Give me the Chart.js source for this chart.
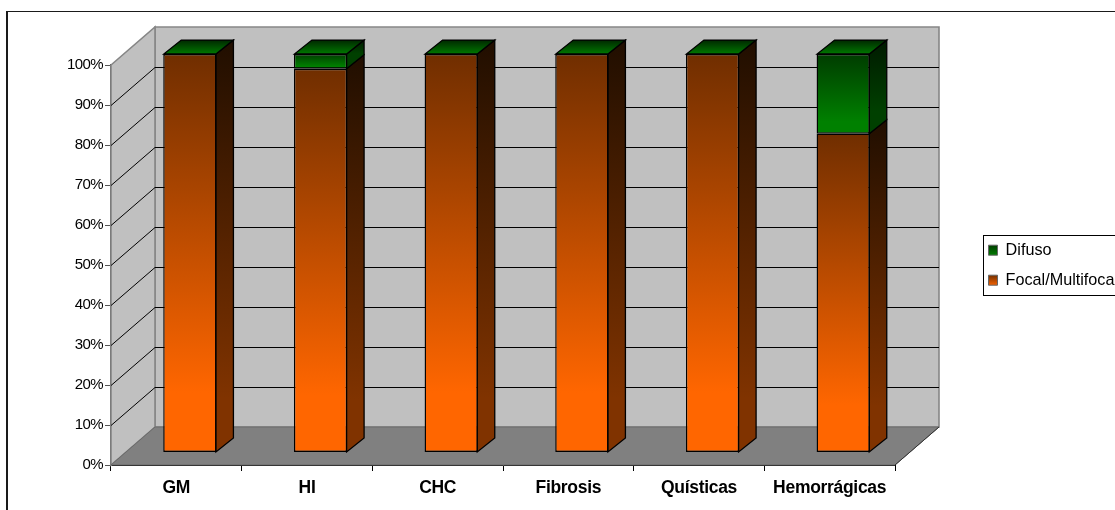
<!DOCTYPE html>
<html><head><meta charset="utf-8">
<style>html,body{margin:0;padding:0;background:#fff;overflow:hidden}canvas{display:block}</style>
<script src="https://cdn.jsdelivr.net/npm/chart.js@4/dist/chart.umd.min.js"></script>
</head><body>
<div style="width:1115px;height:510px"><canvas id="c" width="1115" height="510"></canvas></div>
<script>
const categories = ['GM','HI','CHC','Fibrosis','Quísticas','Hemorrágicas'];
const focal = [100,96.3,100,100,100,80];
const difuso = [0,3.7,0,0,0,20];
const WALL = {dx:44, dy:38};
const BAR = {dx:17.5, dy:14};
const FRONT = {a:0.99625, e:13.5, f:-10.76};
const PAL = {
  focal:{front:['#702e00','#ff6600'], side:['#200e00','#803300']},
  difuso:{front:['#003c00','#008000'], side:['#001a00','#004000']}
};
function grad(ctx,y0,y1,cols,stop){
  const g=ctx.createLinearGradient(0,y0,0,y1);
  g.addColorStop(0,cols[0]); g.addColorStop(stop,cols[1]); g.addColorStop(1,cols[1]);
  return g;
}
function frontFill(pal,lo,hi){
  return c=>{
    if(c.type!=='data'||!c.chart.scales.y) return pal.front[1];
    const i=c.dataIndex,y=c.chart.scales.y;
    return grad(c.chart.ctx,y.getPixelForValue(hi(i)),y.getPixelForValue(lo(i)),pal.front,0.85);
  };
}
function spaced(obj,method,sp){
  const f=obj[method];
  obj[method]=function(...a){const c=this.ctx;c.letterSpacing=sp;f.apply(this,a);c.letterSpacing='0px';};
}
const walls={
  id:'walls',
  afterLayout(chart){
    const l=chart.legend; if(l){l.left=974.7;l.top=228.3;l.right=1300;l.bottom=420;}
    if(!chart.$spaced){chart.$spaced=true;spaced(chart.scales.y,'drawLabels','-0.6px');spaced(chart.scales.x,'drawLabels','-0.3px');}
  },
  beforeDraw(chart){
    const x=chart.ctx,W=chart.width,H=chart.height;
    x.save();x.fillStyle='#fff';x.fillRect(0,0,W,H);
    x.fillStyle='#1a1a1a';x.fillRect(6,11,W-6,1);x.fillRect(6,11,2,H-11);
    x.lineWidth=1;x.strokeStyle='#000';x.strokeRect(983.5,235.5,300,60);
    x.restore();
  },
  beforeDatasetsDraw(chart){
    const x=chart.ctx,a=chart.chartArea,ys=chart.scales.y,t=a.top,b=a.bottom,l=a.left,r=a.right,dx=WALL.dx,dy=WALL.dy;
    const poly=(p,fill,stroke,lw)=>{x.beginPath();p.forEach((q,i)=>i?x.lineTo(q[0],q[1]):x.moveTo(q[0],q[1]));x.closePath();
      if(fill){x.fillStyle=fill;x.fill();} if(stroke){x.strokeStyle=stroke;x.lineWidth=lw||1;x.stroke();}};
    x.save();
    poly([[l+dx,t-dy],[r+dx,t-dy],[r+dx,b-dy],[l+dx,b-dy]],'#c0c0c0','#868686',1.6);
    poly([[l,t],[l+dx,t-dy],[l+dx,b-dy],[l,b]],'#c0c0c0','#868686',1.6);
    poly([[l,b],[l+dx,b-dy],[r+dx,b-dy],[r,b]],'#808080','#6a6a6a',1);
    x.strokeStyle='#000';x.lineWidth=1;
    ys.ticks.forEach(tk=>{
      if(tk.value===0||tk.value===100) return;
      const y=Math.round(ys.getPixelForValue(tk.value))+0.5;
      x.beginPath();x.moveTo(l,y);x.lineTo(l+dx,y-dy);x.lineTo(r+dx,y-dy);x.stroke();
    });
    x.beginPath();x.moveTo(r,b);x.lineTo(r+dx,b-dy);x.strokeStyle='#333';x.stroke();
    // bar sides and caps
    x.transform(1,0,0,FRONT.a,FRONT.e,FRONT.f);
    const m0=chart.getDatasetMeta(0).data,m1=chart.getDatasetMeta(1).data;
    const side=(el,pal)=>{
      const rt=el.x+el.width/2-0.5,top=el.y,base=el.base;
      if(Math.abs(base-top)<1) return;
      poly([[rt,top],[rt+BAR.dx,top-BAR.dy],[rt+BAR.dx,base-BAR.dy],[rt,base]],
        grad(x,top-BAR.dy,base-BAR.dy,pal.side,0.9),'#000',1.3);
    };
    m0.forEach((el,i)=>{
      side(el,PAL.focal); side(m1[i],PAL.difuso);
      const w=el.width,lf=el.x-w/2+0.5,rt=el.x+w/2-0.5,top=Math.min(el.y,m1[i].y);
      const g=x.createLinearGradient(0,top-BAR.dy,0,top);
      g.addColorStop(0,'#002800');g.addColorStop(1,'#007800');
      poly([[lf,top],[rt,top],[rt+BAR.dx,top-BAR.dy],[lf+BAR.dx,top-BAR.dy]],g,'#000',1.3);
    });
    x.restore();
    x.save();
    x.transform(1,0,0,FRONT.a,FRONT.e,FRONT.f);
  },
  afterDatasetsDraw(chart){chart.ctx.restore();}
};
const chart=new Chart(document.getElementById('c'),{
  type:'bar',
  plugins:[walls],
  data:{labels:categories,datasets:[
    {label:'Focal/Multifocal',data:focal,clip:false,borderColor:'#000',borderWidth:1.4,borderSkipped:false,
     backgroundColor:frontFill(PAL.focal,()=>0,i=>focal[i])},
    {label:'Difuso',data:difuso,clip:false,borderColor:'#000',borderWidth:c=>(c.raw>0?1.4:0),borderSkipped:false,
     backgroundColor:frontFill(PAL.difuso,i=>focal[i],i=>focal[i]+difuso[i])}
  ]},
  options:{
    responsive:false,animation:false,
    devicePixelRatio:1,
    layout:{padding:{left:0,top:65,right:220,bottom:0}},
    datasets:{bar:{categoryPercentage:1,barPercentage:0.407}},
    scales:{
      x:{stacked:true,
        afterFit(s){s.height=45;},
        border:{color:'#000',width:1},
        grid:{drawOnChartArea:false,tickLength:6,color:'#000',offset:true},
        ticks:{color:'#000',font:{family:'"Liberation Sans"',size:17.5,weight:'bold'},padding:7,maxRotation:0,autoSkip:false}},
      y:{stacked:true,min:0,max:100,
        afterFit(s){s.width=111;},
        border:{color:'#555',width:2},
        grid:{drawOnChartArea:false,tickLength:6,color:'#555'},
        ticks:{stepSize:10,color:'#000',padding:2,font:{family:'"Liberation Sans"',size:15},callback:v=>v+'%'}}
    },
    plugins:{
      title:{display:false},tooltip:{enabled:false},
      legend:{position:'chartArea',align:'start',
        labels:{boxWidth:9,boxHeight:10,padding:13.8,color:'#000',font:{family:'"Liberation Sans"',size:16.2},
          generateLabels(ch){
            const x=ch.ctx;
            return [[1,PAL.difuso,245,256],[0,PAL.focal,275,286]].map(([i,p,a,b])=>({
              text:ch.data.datasets[i].label,datasetIndex:i,
              fillStyle:grad(x,a,b,p.front,1),strokeStyle:'#666',lineWidth:1,hidden:false
            }));
          }}}
    }
  }
});
</script>
</body></html>
